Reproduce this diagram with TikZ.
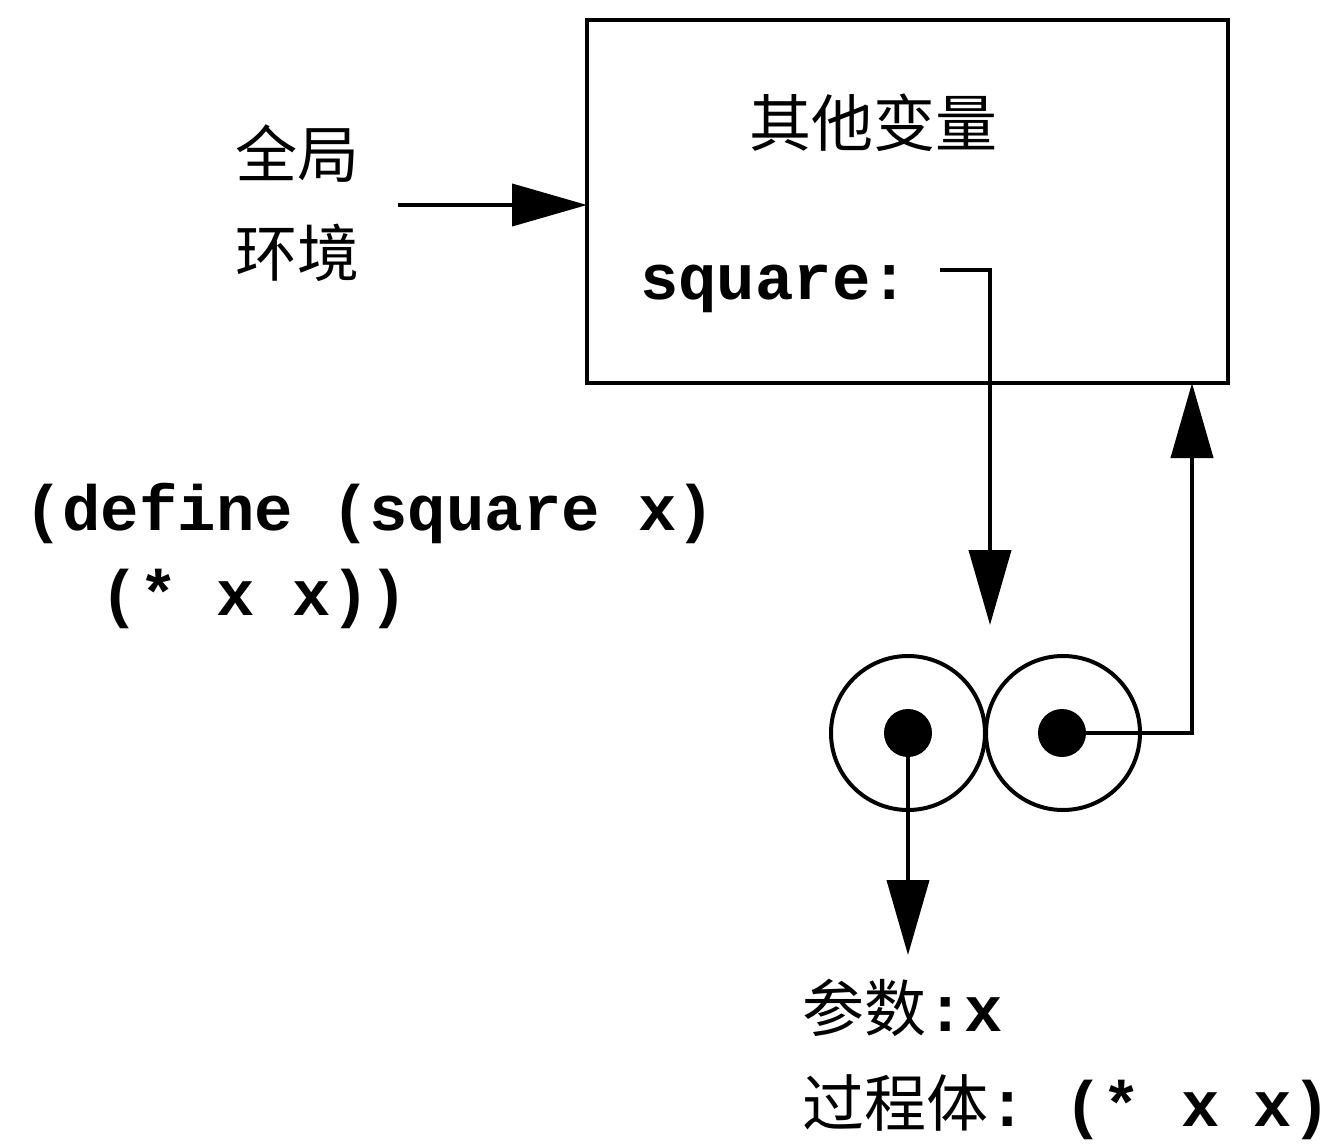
\documentclass[tikz,border=0pt]{standalone}
\usepackage{fontspec}
\setmonofont{Liberation Mono}
\newfontfamily\cjk{Noto Sans CJK SC}
\usetikzlibrary{arrows.meta}
\newcommand{\cjkf}{\cjk\fontsize{62}{66}\selectfont}
\newcommand{\monof}{\ttfamily\bfseries\fontsize{64}{70}\selectfont}
\begin{document}
\begin{tikzpicture}[x=1pt,y=-1pt,line width=4pt,
  cj/.style={font=\cjkf,inner sep=0pt},
  mono/.style={font=\monof,inner sep=0pt},
  envbox/.style={draw,rectangle,inner sep=0pt,outer sep=0pt,minimum width=641pt,minimum height=363pt},
  ring/.style={draw,circle,inner sep=0pt,outer sep=0pt,minimum size=154pt},
  dot/.style={fill,circle,inner sep=0pt,minimum size=48pt},
  arr/.style={-{Triangle[length=75pt,width=42pt]}}]
\useasboundingbox (0,0) rectangle (1342,1145);
\fill[white] (0,0) rectangle (1342,1145);
% environment box
\node[envbox] (env) at (907.5,201.5) {};
\node[cj] (other) at (873,123) {其他变量};
\node[mono,anchor=base west] (sq) at (638,299) {square:};
% global environment label
\node[cj] (g1) at (297,154) {全局};
\node[cj] (g2) at (297,253) {环境};
\coordinate (gs) at (398,205);
\draw[arr] (gs) -- (gs -| env.west);
% define code
\node[mono,anchor=base west] (def1) at (22,530) {(define (square x)};
\node[mono,anchor=base west] (def2) at (22,615) {\ \ (* x x))};
% procedure object
\node[ring] (c1) at (908,733) {};
\node[ring] (c2) at (1063,733) {};
\node[dot] (d1) at (908,733) {};
\node[dot] (d2) at (1062,733) {};
% square binding to procedure
\coordinate (sqs) at (940,270);
\coordinate (sqc) at (990,270);
\coordinate (sqe) at (990,625);
\draw[arr] (sqs) -- (sqc) -- (sqe);
% env pointer
\coordinate (ec) at (1192,733);
\draw[arr] (d2.center) -- (ec) -- (ec |- env.south);
% code pointer
\coordinate (pe) at (908,955);
\draw[arr] (d1.center) -- (pe);
% labels
\node[anchor=base west,inner sep=0pt] (par) at (800,1031) {{\cjkf 参数}{\monof :x}};
\node[anchor=base west,inner sep=0pt] (body) at (800,1126) {{\cjkf 过程体}{\monof :\hspace{38pt}(*\hspace{40pt}x\hspace{34pt}x)}};
\end{tikzpicture}
\end{document}
